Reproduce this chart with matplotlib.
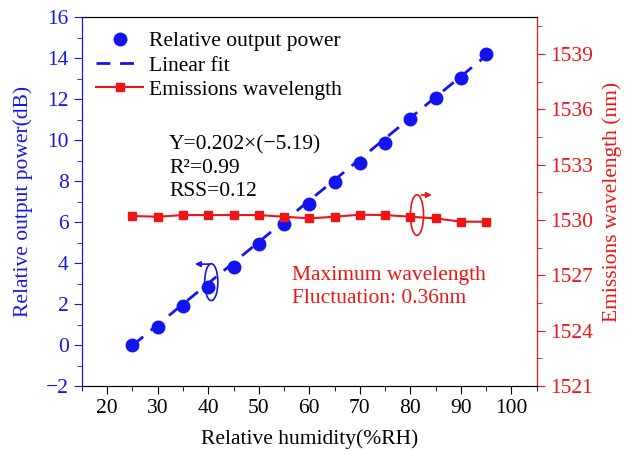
import numpy as np
import matplotlib
matplotlib.use("Agg")
import matplotlib.pyplot as plt
import matplotlib.ticker as ticker
from matplotlib.patches import Ellipse

# データ
humidity = [25, 30, 35, 40, 45, 50, 55, 60, 65, 70, 75, 80, 85, 90, 95]
power = [0.0, 0.9, 1.9, 2.85, 3.8, 4.95, 5.9, 6.9, 7.95, 8.9, 9.85, 11.05, 12.05, 13.05, 14.2]
fit_x = [25, 95]
fit_y = [-0.02, 14.12]
wavelength = [1530.22, 1530.18, 1530.27, 1530.27, 1530.27, 1530.27, 1530.18, 1530.09,
              1530.18, 1530.29, 1530.27, 1530.18, 1530.09, 1529.91, 1529.91]

plt.rcParams['font.family'] = ['Liberation Serif', 'DejaVu Serif']
plt.rcParams['font.size'] = 15.5

blue = '#1414f0'
red = '#f01414'

fig = plt.figure(figsize=(6.3, 4.51), dpi=100)
ax = fig.add_axes([0.130, 0.144, 0.722, 0.818])
ax2 = ax.twinx()

# 左軸: 出力パワー
ax.plot(humidity, power, 'o', color=blue, ms=9, label='Relative output power', zorder=3)
ax.plot(fit_x, fit_y, '--', color=blue, lw=2, dashes=(5, 3.5), label='Linear fit', zorder=2)
# 右軸: 波長
ax2.plot(humidity, wavelength, 's-', color=red, ms=6, lw=1.5, label='Emissions wavelength')

ax.set_xlim(15, 105)
ax.set_ylim(-2, 16)
ax2.set_ylim(1521, 1541)
ax.xaxis.set_major_locator(ticker.MultipleLocator(10))
ax.xaxis.set_minor_locator(ticker.MultipleLocator(5))
ax.yaxis.set_major_locator(ticker.MultipleLocator(2))
ax.yaxis.set_minor_locator(ticker.MultipleLocator(1))
ax2.yaxis.set_major_locator(ticker.FixedLocator([1521, 1524, 1527, 1530, 1533, 1536, 1539]))
ax2.yaxis.set_minor_locator(ticker.MultipleLocator(1.5))
ax.xaxis.set_major_formatter(ticker.FuncFormatter(lambda v, p: '%d' % v))
ax.yaxis.set_major_formatter(ticker.FuncFormatter(lambda v, p: ('\u2212%d' % -v) if v < 0 else '%d' % v))

ax.set_xlabel('Relative humidity(%RH)', fontsize=15.5, labelpad=8)
ax.set_ylabel('Relative output power(dB)', color=blue, fontsize=15.5, labelpad=9)
ax2.set_ylabel('Emissions wavelength (nm)', color=red, fontsize=15.5, labelpad=7)

ax.spines['left'].set_color(blue)
ax2.spines['left'].set_color(blue)
ax2.spines['right'].set_color(red)
ax.tick_params(axis='y', which='both', colors=blue, direction='out')
ax2.tick_params(axis='y', which='both', colors=red, direction='out')
ax.tick_params(axis='x', which='both', direction='out')
ax.tick_params(which='major', length=6)
ax2.tick_params(which='major', length=6)
ax.tick_params(which='minor', length=3.5)
ax2.tick_params(which='minor', length=3.5)

# 凡例
h1, l1 = ax.get_legend_handles_labels()
h2, l2 = ax2.get_legend_handles_labels()
ax2.legend(h1 + h2, l1 + l2, loc='upper left', bbox_to_anchor=(0.0, 1.0),
           frameon=False, fontsize=15.5, handlelength=2.2, borderaxespad=0.25,
           labelspacing=0.2, handletextpad=0.25)

# 注釈
ax.text(0.192, 0.64, 'Y=0.202\u00d7(\u22125.19)', transform=ax.transAxes)
ax.text(0.192, 0.578, 'R\u00b2=0.99', transform=ax.transAxes)
ax.text(0.192, 0.516, 'RSS=0.12', transform=ax.transAxes)
ax.text(0.462, 0.287, 'Maximum wavelength', transform=ax.transAxes, color=red)
ax.text(0.462, 0.225, 'Fluctuation: 0.36nm', transform=ax.transAxes, color=red)

# 楕円と矢印
ax.add_patch(Ellipse((40.6, 3.07), 2.6, 1.8, fill=False, ec=blue, lw=1.2))
ax.annotate('', xy=(36.8, 3.95), xytext=(40.9, 3.95),
            arrowprops=dict(arrowstyle='-|>', color=blue, lw=1.2, mutation_scale=8))
ax2.add_patch(Ellipse((81.3, 1530.27), 2.6, 2.2, fill=False, ec=red, lw=1.2))
ax2.annotate('', xy=(84.8, 1531.36), xytext=(81.6, 1531.36),
             arrowprops=dict(arrowstyle='-|>', color=red, lw=1.2, mutation_scale=8))

fig.savefig('out.png', dpi=100)
